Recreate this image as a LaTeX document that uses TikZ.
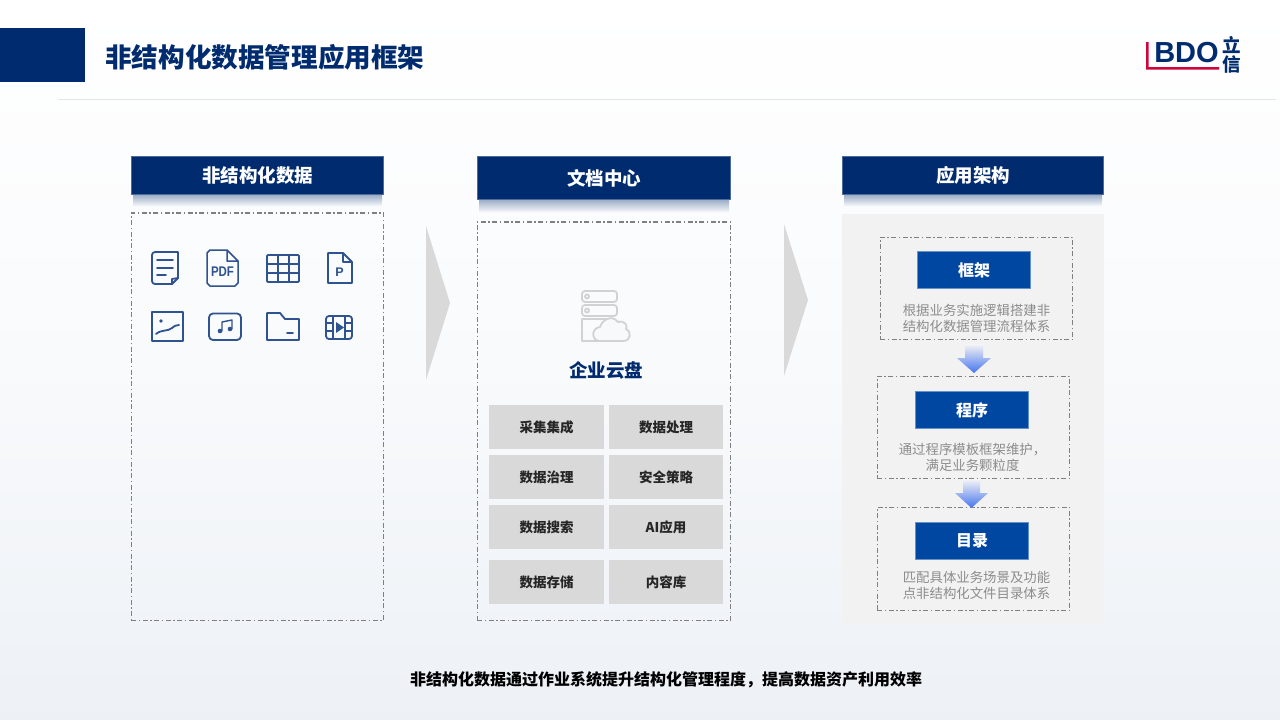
\documentclass[tikz,border=0pt]{standalone}
\usepackage{fontspec}
\setmainfont{Noto Sans CJK SC}
\newfontfamily\latinfont{Liberation Sans}
\usetikzlibrary{positioning}
\definecolor{navy}{HTML}{002C6F}
\definecolor{stepblue}{HTML}{0047A2}
\definecolor{icon}{HTML}{2F5290}
\definecolor{tilegray}{HTML}{D9D9D9}
\definecolor{dashgray}{HTML}{808080}
\definecolor{textgray}{HTML}{8C8C8C}
\definecolor{cloudgray}{HTML}{D2D2D2}
\definecolor{pagebottom}{HTML}{EDF1F6}
\definecolor{logored}{HTML}{D0043C}
\definecolor{arrowblue}{HTML}{4674EE}
\tikzset{
  headbar/.style = {
    rectangle, draw=navy!70!white, line width=0.8pt, fill=navy, text=white,
    inner sep=0pt, outer sep=0pt, font=\fontsize{18.5}{22}\selectfont\bfseries
  },
  panelbox/.style = {
    rectangle, draw=dashgray, line width=1.3pt,
    dash pattern=on 5pt off 2.5pt on 1.5pt off 2.5pt,
    inner sep=0pt, outer sep=0pt
  },
  tilebox/.style = {
    rectangle, fill=tilegray, text=black!85, minimum width=114.5pt, minimum height=44pt,
    inner sep=0pt, outer sep=0pt, font=\fontsize{13.5}{16}\selectfont\bfseries
  },
  stepbar/.style = {
    rectangle, fill=stepblue, draw=stepblue!60!white, line width=0.6pt, text=white,
    minimum width=113.5pt, minimum height=37.5pt,
    inner sep=0pt, outer sep=0pt, font=\fontsize{16}{20}\selectfont\bfseries
  },
  steptext/.style = {
    text=textgray, align=center, inner sep=0pt,
    font=\fontsize{13.4}{16}\selectfont
  },
  flowarrow/.style = {top color=black!4, bottom color=arrowblue},
  headshadow/.style = {top color=navy!38!white, bottom color=white!97!navy},
  chevron/.style = {fill=tilegray},
  iconline/.style = {draw=icon, line width=1.8pt, line join=round, line cap=round},
  cloudline/.style = {draw=cloudgray, line width=1.8pt, line join=round}
}
\begin{document}
\begin{tikzpicture}[x=1pt, y=-1pt]
  \useasboundingbox (0,0) rectangle (1280,720);
  \shade[top color=white, bottom color=pagebottom, middle color=white!65!pagebottom] (0,0) rectangle (1280,720);

  % title band
  \fill[navy] (0,28) rectangle (85,82);
  \node[anchor=west, inner sep=0pt, text=navy, font=\fontsize{26.6}{30}\selectfont\bfseries] (title) at (105,57) {非结构化数据管理应用框架};
  \draw[black!10, line width=1pt] (58,99) -- (1276,99);

  % logo
  \fill[logored] (1146,42) rectangle (1148.5,69) (1146,67) rectangle (1219,69.5);
  \node[inner sep=0pt, text=navy, font=\latinfont\fontsize{29}{29}\selectfont\bfseries] (logobdo) at (1186.5,53) {BDO};
  \node[inner sep=0pt, text=navy, align=center, font=\fontsize{18.5}{19}\selectfont\bfseries] (logocn) at (1232,55) {立\\信};

  % header shadows
  \shade[headshadow] (133,195) rectangle (382,206);
  \shade[headshadow] (479,200) rectangle (729,212);
  \shade[headshadow] (844,195) rectangle (1102,206);

  % columns
  \node[headbar, minimum width=252.5pt, minimum height=38.5pt] (headdata) at (257.5,175.5) {非结构化数据};
  \node[panelbox, minimum width=252.5pt, minimum height=407.5pt, below=18.2pt of headdata] (paneldata) {};
  \node[headbar, minimum width=253.5pt, minimum height=43.5pt] (headdoc) at (604,178) {文档中心};
  \node[panelbox, minimum width=253.5pt, minimum height=398.5pt, below=22.2pt of headdoc] (paneldoc) {};
  \node[headbar, minimum width=261.5pt, minimum height=38.5pt] (headapp) at (973,175.5) {应用架构};
  \node[rectangle, fill=black!5, minimum width=261.5pt, minimum height=410pt, inner sep=0pt, outer sep=0pt, below=19.2pt of headapp] (panelapp) {};

  \fill[chevron] (426,226) -- (450,303) -- (426,380) -- cycle;
  \fill[chevron] (784,224) -- (808,300) -- (784,376) -- cycle;

  % document icons, upper row
  \draw[iconline] (155,252) -- (178,252) -- (178,278) -- (172,284) -- (155,284) to[out=180,in=270] (152,281) -- (152,255) to[out=90,in=180] cycle;
  \draw[iconline] (157,260) -- (173,260) (157,268) -- (173,268) (157,275) -- (166,275);
  \draw[iconline] (172,284) -- (172,279) -- (178,278);
  \draw[iconline, line width=1.5pt] (227,250) -- (210,250) -- (207,253) -- (207,283) -- (210,286) -- (235,286) -- (238,283) -- (238,261) -- cycle (227,250) -- (227,261) -- (238,261);
  \node[inner sep=0pt, text=icon, font=\latinfont\fontsize{14}{14}\selectfont\bfseries, xscale=0.82] (iconpdf) at (222.5,272) {PDF};
  \draw[iconline, rounded corners=1pt] (267,255) rectangle (299,282);
  \draw[iconline] (278,255) -- (278,282) (289,255) -- (289,282) (267,264) -- (299,264) (267,273) -- (299,273);
  \draw[iconline] (343,253) -- (328,253) -- (328,283) -- (352,283) -- (352,262) -- cycle (343,253) -- (343,262) -- (352,262);
  \node[inner sep=0pt, text=icon, font=\latinfont\fontsize{12.5}{12}\selectfont\bfseries] (iconp) at (339.5,272) {P};

  % document icons, lower row
  \draw[iconline] (152,312) rectangle (183,341);
  \fill[icon] (161,321) circle (1.8);
  \draw[iconline] (156,334) .. controls (162,329) and (167,332) .. (172,328) .. controls (174,326) and (176,325) .. (179,325);
  \draw[iconline, rounded corners=4pt] (209,313.5) rectangle (241,340);
  \draw[iconline, line width=1.4pt] (222,331) -- (222,322) -- (232,320) -- (232,329);
  \fill[icon] (220,331) circle (2.3) (230,329) circle (2.3);
  \draw[iconline] (267,313) -- (280,313) -- (285,319) -- (299,319) -- (299,340) -- (267,340) -- cycle;
  \draw[iconline] (287,333) -- (293,333);
  \draw[iconline, rounded corners=3pt] (326,316) rectangle (352,339);
  \draw[iconline, line width=1.3pt] (333,316) -- (333,339) (345,316) -- (345,339)
    (326,323) -- (333,323) (326,331) -- (333,331) (345,323) -- (352,323) (345,331) -- (352,331);
  \fill[icon] (336,322) -- (344,327.5) -- (336,333) -- cycle;

  % cloud drive icon
  \draw[cloudline, rounded corners=3pt] (582,291) rectangle (617,302) (582,305) rectangle (617,316);
  \draw[cloudline] (587,296.5) circle (2) (587,310.5) circle (2);
  \draw[cloudline] (582,319) rectangle (606,341);
  \draw[cloudline, fill=white!97!navy] (600,341) .. controls (591,341) and (591,328) .. (600,327)
    .. controls (602,320) and (612,314) .. (618,322) .. controls (625,320) and (628,326) .. (626,329)
    .. controls (632,332) and (631,341) .. (623,341) -- cycle;
  \node[inner sep=0pt, text=navy, font=\fontsize{18.5}{22}\selectfont\bfseries] (drive) at (606,370.5) {企业云盘};

  % capability tiles
  \node[tilebox] (collect) at (546.5,427) {采集集成};
  \node[tilebox, right=5pt of collect] (process) {数据处理};
  \node[tilebox, below=6pt of collect] (govern) {数据治理};
  \node[tilebox, right=5pt of govern] (secure) {安全策略};
  \node[tilebox, below=6pt of govern] (search) {数据搜索};
  \node[tilebox, right=5pt of search] (aiapp) {AI应用};
  \node[tilebox, below=11pt of search] (store) {数据存储};
  \node[tilebox, right=5pt of store] (content) {内容库};

  % steps
  \node[panelbox, minimum width=192.5pt, minimum height=102.5pt] (boxframe) at (976.5,288.5) {};
  \node[stepbar] (barframe) at (974,270) {框架};
  \node[steptext] (textframe) at (976.5,318) {根据业务实施逻辑搭建非\\结构化数据管理流程体系};

  \node[panelbox, minimum width=192.5pt, minimum height=102.5pt] (boxprog) at (973.5,427.5) {};
  \node[stepbar] (barprog) at (972,410) {程序};
  \node[steptext] (textprog) at (972.5,457) {通过程序模板框架维护，\\满足业务颗粒度};

  \node[panelbox, minimum width=192.5pt, minimum height=103.5pt] (boxdir) at (973.5,559) {};
  \node[stepbar] (bardir) at (972,541) {目录};
  \node[steptext] (textdir) at (976.5,585) {匹配具体业务场景及功能\\点非结构化文件目录体系};

  \shade[flowarrow] (965,344) -- (983,344) -- (983,358) -- (991,358) -- (974,373) -- (957,358) -- (965,358) -- cycle;
  \shade[flowarrow] (963,479) -- (980,479) -- (980,493) -- (988,493) -- (971.5,508) -- (955,493) -- (963,493) -- cycle;

  % bottom line
  \node[inner sep=0pt, text=black, font=\fontsize{16}{20}\selectfont\bfseries] (summary) at (666,680) {非结构化数据通过作业系统提升结构化管理程度，提高数据资产利用效率};
\end{tikzpicture}
\end{document}
